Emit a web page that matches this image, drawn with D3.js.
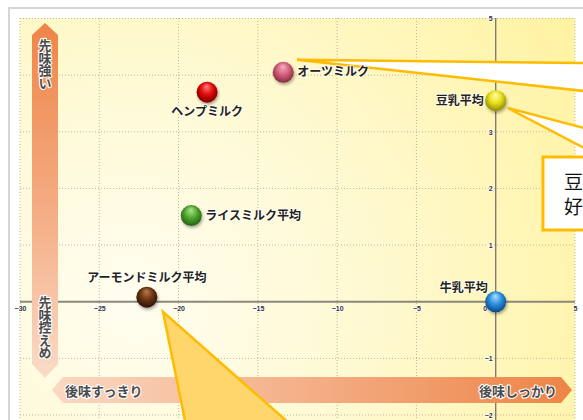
<!DOCTYPE html>
<html><head><meta charset="utf-8">
<script src="https://cdn.jsdelivr.net/npm/d3@7/dist/d3.min.js"></script>
<style>
html,body{margin:0;padding:0;background:#fff;overflow:hidden}
svg{display:block;font-family:"Noto Sans CJK JP","Noto Sans",sans-serif}
</style></head><body>
<svg id="c" width="583" height="420"></svg>
<script>
// ---- data ----
const names  = ["ヘンプミルク","オーツミルク","豆乳平均","ライスミルク平均","アーモンドミルク平均","牛乳平均"];
const aftertaste = [-18.2, -13.4, 0, -19.2, -22.0, 0];   // x: 後味
const firsttaste = [3.70, 4.05, 3.55, 1.52, 0.08, 0];     // y: 先味
const xTicks = [-30,-25,-20,-15,-10,-5,0,5];
const yTicks = [-2,-1,1,2,3,4,5];
const xDomain = [-30,5];
const yDomain = [-2,5];
const axisWords = {top:"先味強い", bottom:"先味控えめ", left:"後味すっきり", right:"後味しっかり"};
const calloutText = ["豆","好"];

// ---- style ----
const palette = [
  ["#ff8080","#e00808","#6e0000"],
  ["#f6b0c0","#d3607a","#7a2436"],
  ["#ffffb0","#e6e01a","#847c00"],
  ["#b0e690","#4ea52e","#1c560e"],
  ["#b87a4a","#6b3512","#250e03"],
  ["#b0e0ff","#2a8fdc","#083f80"]
];
const labelPos = ["below","right","left","right","above","aboveLeft"];

const svg = d3.select("#c");
const W = 583, H = 420;
const x = d3.scaleLinear().domain(xDomain).range([20,575]);
const y = d3.scaleLinear().domain(yDomain).range([415,18.5]);

const defs = svg.append("defs");
const bg = defs.append("radialGradient").attr("id","bg").attr("gradientUnits","userSpaceOnUse")
  .attr("cx",130).attr("cy",300).attr("r",520);
bg.append("stop").attr("offset","0").attr("stop-color","#fffdf0");
bg.append("stop").attr("offset","0.45").attr("stop-color","#fff9d2");
bg.append("stop").attr("offset","1").attr("stop-color","#fff3a2");

const vg = defs.append("linearGradient").attr("id","vg").attr("x1",0).attr("y1",0).attr("x2",0).attr("y2",1);
vg.append("stop").attr("offset","0").attr("stop-color","#ee8548");
vg.append("stop").attr("offset","0.5").attr("stop-color","#f4aa80");
vg.append("stop").attr("offset","1").attr("stop-color","#fadbc6");
const hg = defs.append("linearGradient").attr("id","hg").attr("x1",0).attr("y1",0).attr("x2",1).attr("y2",0);
hg.append("stop").attr("offset","0").attr("stop-color","#fad8c2");
hg.append("stop").attr("offset","0.5").attr("stop-color","#f4ae86");
hg.append("stop").attr("offset","1").attr("stop-color","#ed8446");

const sh = defs.append("filter").attr("id","sh").attr("x","-50%").attr("y","-50%").attr("width","200%").attr("height","200%");
sh.append("feDropShadow").attr("dx",1).attr("dy",2).attr("stdDeviation",1.6).attr("flood-color","#000").attr("flood-opacity",0.35);

palette.forEach((p,i)=>{
  const g = defs.append("radialGradient").attr("id","s"+i)
    .attr("cx","50%").attr("cy","45%").attr("r","60%").attr("fx","48%").attr("fy","22%");
  g.append("stop").attr("offset","0").attr("stop-color",p[0]);
  g.append("stop").attr("offset","0.5").attr("stop-color",p[1]);
  g.append("stop").attr("offset","1").attr("stop-color",p[2]);
});

// frame
svg.append("rect").attr("x",9).attr("y",8).attr("width",620).attr("height",460)
  .attr("fill","#fff").attr("stroke","#d6d6d6").attr("stroke-width",2);
svg.append("rect").attr("x",x(-30)).attr("y",18).attr("width",x(5)-x(-30)).attr("height",420)
  .attr("fill","url(#bg)");

// grid
const grid = svg.append("g").attr("stroke","#bdb8a0").attr("stroke-width",1).attr("stroke-dasharray","1,2");
grid.selectAll("line.v").data(xTicks.filter(d=>d!==0)).join("line")
  .attr("x1",d=>x(d)).attr("x2",d=>x(d)).attr("y1",18).attr("y2",H);
grid.selectAll("line.h").data(yTicks).join("line")
  .attr("x1",x(-30)).attr("x2",x(5)).attr("y1",d=>y(d)).attr("y2",d=>y(d));

// axes lines
svg.append("line").attr("x1",x(-30)).attr("x2",x(5)).attr("y1",y(0)).attr("y2",y(0))
  .attr("stroke","#8a887c").attr("stroke-width",2);
svg.append("line").attr("x1",x(0)).attr("x2",x(0)).attr("y1",18).attr("y2",H)
  .attr("stroke","#77756c").attr("stroke-width",1.3);

// tick labels
const xa = svg.append("g").attr("transform",`translate(0,${y(0)})`)
  .call(d3.axisBottom(x).tickValues(xTicks).tickSize(0).tickPadding(4).tickFormat(d3.format("d")));
const ya = svg.append("g").attr("transform",`translate(${x(0)},0)`)
  .call(d3.axisLeft(y).tickValues(yTicks).tickSize(0).tickPadding(3).tickFormat(d3.format("d")));
[xa,ya].forEach(a=>{
  a.select(".domain").remove();
  a.selectAll("text").attr("font-size",7).attr("font-weight","bold").attr("fill","#333")
   .attr("font-family","'Liberation Sans',Arial,sans-serif")
   .attr("stroke","#fff").attr("stroke-width",1.5).attr("paint-order","stroke");
});
xa.selectAll(".tick").filter(d=>d===0).select("text").attr("dx",-11);

// axis arrows
const ax = svg.append("g");
ax.append("path").attr("fill","url(#vg)")
  .attr("d",`M45,23 L58,35 L58,364 L45,378 L32,364 L32,35 Z`);
ax.append("path").attr("fill","url(#hg)")
  .attr("d",`M52,390 L63,377 L561,377 L572,390 L561,403 L63,403 Z`);
const arrowTxt = (t,xx,yy,vert,anchor)=>{
  const e = ax.append("text").text(t).attr("x",xx).attr("y",yy)
    .attr("font-size",13).attr("font-weight","bold").attr("fill","#4a4a4a")
    .attr("stroke","#fff").attr("stroke-width",2.2).attr("stroke-linejoin","round").attr("paint-order","stroke")
    .attr("text-anchor",anchor||"start");
  if(vert) e.style("writing-mode","vertical-rl").attr("letter-spacing",-0.5);
  return e;
};
arrowTxt(axisWords.top,45,39,true);
arrowTxt(axisWords.bottom,45,296,true);
arrowTxt(axisWords.left,65,396,false);
arrowTxt(axisWords.right,557,396,false,"end");

// callouts (in data units)
const ann = svg.append("g").attr("stroke","#ffbb00").attr("stroke-width",2.5).attr("stroke-linejoin","miter");
const P = pts => pts.map(p=>[x(p[0]),y(p[1])].join(",")).join(" ");
ann.append("polygon").attr("fill","#fff").attr("points",P([[-12.53,4.27],[6.9,4.21],[6.9,3.68]]));
ann.append("polygon").attr("fill","#fff").attr("points",P([[0.76,3.42],[6.9,2.97],[6.9,2.52]]));
ann.append("rect").attr("x",x(2.98)).attr("y",y(2.555)).attr("width",90).attr("height",y(1.266)-y(2.555))
  .attr("fill","#fff").attr("stroke-width",3);
ann.append("polygon").attr("fill","#fed66c").attr("points",P([[-20.98,-0.18],[-19.45,-2.3],[-12.4,-2.3]]));
calloutText.forEach((t,i)=>svg.append("text").text(t).attr("x",564).attr("y",189+i*25)
  .attr("font-size",19).attr("fill","#111"));

// points
const data = names.map((n,i)=>({n,x:aftertaste[i],y:firsttaste[i],i,pos:labelPos[i]}));
svg.append("g").selectAll("circle").data(data).join("circle")
  .attr("cx",d=>x(d.x)).attr("cy",d=>y(d.y)).attr("r",10.5)
  .attr("fill",d=>`url(#s${d.i})`).attr("filter","url(#sh)");

// labels
const off = {below:[0,24,"middle"], right:[14,4,"start"], left:[-12,4,"end"], above:[0,-15,"middle"], aboveLeft:[-8,-10,"end"]};
svg.append("g").selectAll("text").data(data).join("text")
  .text(d=>d.n)
  .attr("x",d=>x(d.x)+off[d.pos][0]).attr("y",d=>y(d.y)+off[d.pos][1])
  .attr("text-anchor",d=>off[d.pos][2])
  .attr("font-size",12).attr("font-weight","bold").attr("fill","#222")
  .attr("stroke","#fff").attr("stroke-opacity",0.7).attr("stroke-width",2).attr("stroke-linejoin","round").attr("paint-order","stroke");
</script>
</body></html>
